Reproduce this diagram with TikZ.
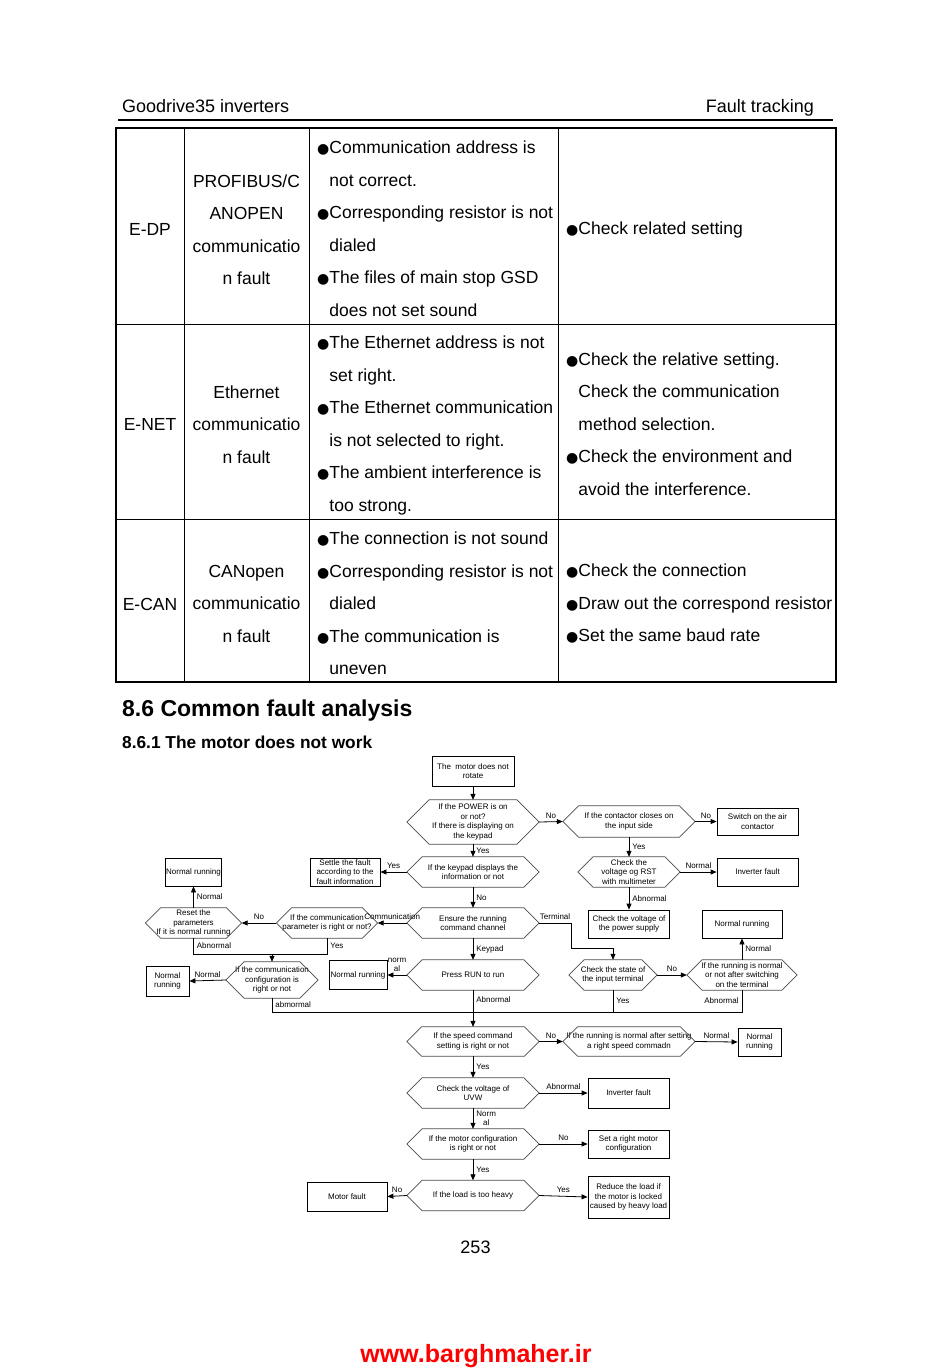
\documentclass[tikz,border=0pt]{standalone}
\usepackage{fontspec}
\setmainfont{Liberation Sans}
\newfontfamily\simbolo[Scale=0.8]{DejaVu Sans}
\usetikzlibrary{arrows.meta,calc}

\newcommand{\piccolo}{\fontsize{8}{9.5}\selectfont}
\newcommand{\tabella}{\fontsize{17.5}{32.5}\selectfont}
\newcommand{\punto}{{\simbolo ●}}
\newcommand{\rientro}{\phantom{\punto}}

\begin{document}
\begin{tikzpicture}[x=1pt,y=-1pt,
  box/.style 2 args={draw, line width=.8pt, minimum width=#1, minimum height=#2, inner sep=1pt, align=center, font=\piccolo},
  dec/.style 2 args={minimum width=#1, minimum height=#2, inner sep=0pt, align=center, font=\piccolo},
  freccia/.style={-{Triangle[length=6pt,width=5pt]}, line width=.8pt},
  linea/.style={line width=.8pt},
  lab/.style={font=\piccolo, inner sep=3pt},
  cella/.style={font=\tabella, inner sep=0pt, align=left, anchor=west},
  cellac/.style={font=\tabella, inner sep=0pt, align=center}]
\useasboundingbox (0,0) rectangle (950,1368);
\fill[white] (0,0) rectangle (950,1368);

% testata
\node[font=\fontsize{18}{20}\selectfont, anchor=base west, inner sep=0pt] (testata) at (122,112.5) {Goodrive35 inverters};
\node[font=\fontsize{18}{20}\selectfont, anchor=base east, inner sep=0pt] (capitolo) at (814,112.5) {Fault tracking};
\draw[line width=2pt] (118,120) -- (833,120);

% tabella
\draw[line width=1.2pt] (116,128) rectangle (836,682);
\draw (184,128) -- (184,682);
\draw (309,128) -- (309,682);
\draw (558,128) -- (558,682);
\draw (116,324) -- (836,324);
\draw (116,519) -- (836,519);

\node[cellac] (edp) at (150,229) {E-DP};
\node[cellac] (edpnome) at (246.5,229.5) {PROFIBUS/C\\ANOPEN\\communicatio\\n fault};
\node[cella] (edpcausa) at (317,229.5) {\punto Communication address is\\\rientro not correct.\\\punto Corresponding resistor is not\\\rientro dialed\\\punto The files of main stop GSD\\\rientro does not set sound};
\node[cella] (edprimedio) at (566,230) {\punto Check related setting};

\node[cellac] (enet) at (150,424) {E-NET};
\node[cellac] (enetnome) at (246.5,424.5) {Ethernet\\communicatio\\n fault};
\node[cella] (enetcausa) at (317,425.5) {\punto The Ethernet address is not\\\rientro set right.\\\punto The Ethernet communication\\\rientro is not selected to right.\\\punto The ambient interference is\\\rientro too strong.};
\node[cella] (enetrimedio) at (566,425) {\punto Check the relative setting.\\\rientro Check the communication\\\rientro method selection.\\\punto Check the environment and\\\rientro avoid the interference.};

\node[cellac] (ecan) at (150,604) {E-CAN};
\node[cellac] (ecannome) at (246.5,603.5) {CANopen\\communicatio\\n fault};
\node[cella] (ecancausa) at (317,604.5) {\punto The connection is not sound\\\punto Corresponding resistor is not\\\rientro dialed\\\punto The communication is\\\rientro uneven};
\node[cella] (ecanrimedio) at (566,604) {\punto Check the connection\\\punto Draw out the correspond resistor\\\punto Set the same baud rate};

% titoli
\node[font=\fontsize{23}{26}\selectfont\bfseries, anchor=base west, inner sep=0pt] (sezione) at (122,716) {8.6 Common fault analysis};
\node[font=\fontsize{17.3}{20}\selectfont\bfseries, anchor=base west, inner sep=0pt] (sottosezione) at (122,748) {8.6.1 The motor does not work};

% diagramma
\node[box={82pt}{30pt}] (inizio) at (473,771) {The\ \ motor does not\\rotate};
\node[dec={132pt}{44pt}] (dpower) at (473,822) {If the POWER is on\\or not?\\If there is displaying on\\the keypad};
\node[dec={132pt}{31pt}] (dcontatto) at (629,821.5) {If the contactor closes on\\the input side};
\node[box={81pt}{27pt}] (aria) at (757.5,821.5) {Switch on the air\\contactor};
\node[dec={102pt}{30pt}] (drst) at (629,872) {Check the\\voltage og RST\\with multimeter};
\node[box={81pt}{28pt}] (guasto1) at (757.5,872) {Inverter fault};
\node[box={81pt}{28pt}] (alim) at (629,924) {Check the voltage of\\the power supply};
\node[dec={132pt}{30pt}] (dkeypad) at (473,872) {If the keypad displays the\\information or not};
\node[box={70pt}{28pt}] (settle) at (345,872) {Settle the fault\\according to the\\fault information};
\node[dec={132pt}{30pt}] (dcanale) at (473,923) {Ensure the running\\command channel};
\node[dec={101pt}{30pt}] (dcom) at (327,923) {If the communication\\parameter is right or not?};
\node[dec={96pt}{30pt}] (dreset) at (193.5,923) {Reset the\\parameters\\If it is normal running};
\node[box={56pt}{28pt}] (normale1) at (193.5,872) {Normal running};
\node[dec={92pt}{36pt}] (dconfig) at (272,980) {If the communication\\configuration is\\right or not};
\node[box={43pt}{30pt}] (normale2) at (167.5,981) {Normal\\running};
\node[dec={132pt}{30pt}] (drun) at (473,975) {Press RUN to run};
\node[box={58pt}{29pt}] (normale3) at (358,975) {Normal running};
\node[dec={88pt}{30pt}] (dstato) at (613,975) {Check the state of\\the input terminal};
\node[dec={110pt}{30pt}] (dmorsetto) at (742,975) {If the running is normal\\or not after switching\\on the terminal};
\node[box={80pt}{28pt}] (normale4) at (742,924) {Normal running};
\node[dec={132pt}{29pt}] (dvelocita) at (473,1041.5) {If the speed command\\setting is right or not};
\node[dec={132pt}{29pt}] (ddopo) at (629,1041.5) {If the running is normal after setting\\a right speed commadn};
\node[box={43pt}{28pt}] (normale5) at (759.5,1042) {Normal\\running};
\node[dec={132pt}{30pt}] (duvw) at (473,1093) {Check the voltage of\\UVW};
\node[box={81pt}{30pt}] (guasto2) at (628.5,1093) {Inverter fault};
\node[dec={132pt}{30pt}] (dmotore) at (473,1144) {If the motor configuration\\is right or not};
\node[box={81pt}{28pt}] (config) at (628.5,1144) {Set a right motor\\configuration};
\node[dec={132pt}{30pt}] (dcarico) at (473,1195.5) {If the load is too heavy};
\node[box={80pt}{29pt}] (motore) at (347,1196.5) {Motor fault};
\node[box={81pt}{42pt}] (ridurre) at (628.5,1197) {Reduce the load if\\the motor is locked\\caused by heavy load};

% esagoni
\foreach \d in {dpower,dcontatto,drst,dkeypad,dcanale,dcom,dreset,dconfig,drun,dstato,dmorsetto,dvelocita,ddopo,duvw,dmotore,dcarico}
  \draw[black!70, line width=.7pt] let \p1=(\d.north), \p2=(\d.center), \n1={\y1-\y2} in
    (\d.west) -- ([xshift=\n1]\d.north west) -- ([xshift=-\n1]\d.north east) -- (\d.east)
    -- ([xshift=-\n1]\d.south east) -- ([xshift=\n1]\d.south west) -- cycle;

\coordinate (jcom) at (272,954);
\coordinate (jterm) at (571,948);
\coordinate (jbasso) at (473,1012);

\draw[freccia] (inizio.south) -- (dpower.north);
\draw[freccia] (dpower.east) -- node[lab,above]{No} (dcontatto.west);
\draw[freccia] (dcontatto.east) -- node[lab,above]{No} (aria.west);
\draw[freccia] (dcontatto.south) -- node[lab,right]{Yes} (drst.north);
\draw[freccia] (drst.east) -- node[lab,above]{Normal} (guasto1.west);
\draw[freccia] (drst.south) -- node[lab,right]{Abnormal} (alim.north);
\draw[freccia] (dpower.south) -- node[lab,right]{Yes} (dkeypad.north);
\draw[freccia] (dkeypad.west) -- node[lab,above]{Yes} (settle.east);
\draw[freccia] (dkeypad.south) -- node[lab,right]{No} (dcanale.north);
\draw[freccia] (dcanale.west) -- node[lab,above]{Communication} (dcom.east);
\draw[freccia] (dcom.west) -- node[lab,above]{No} (dreset.east);
\draw[freccia] (dreset.north) -- node[lab,right]{Normal} (normale1.south);
\draw[linea] (dreset.south) -- node[lab,right]{Abnormal} (dreset.south |- jcom) -- (dcom.south |- jcom) -- node[lab,right]{Yes} (dcom.south);
\draw[freccia] (jcom) -- (dconfig.north);
\draw[freccia] (dconfig.west) -- node[lab,above]{Normal} (normale2.east);
\draw[freccia] (dcanale.south) -- node[lab,right]{Keypad} (drun.north);
\draw[freccia] (drun.west) -- node[lab,above,align=center]{norm\\al} (normale3.east);
\draw[freccia] (dcanale.east) -- node[lab,above]{Terminal} (dcanale.east -| jterm) -- (jterm) -- (jterm -| dstato.north) -- (dstato.north);
\draw[freccia] (dstato.east) -- node[lab,above]{No} (dmorsetto.west);
\draw[freccia] (dmorsetto.north) -- node[lab,right]{Normal} (normale4.south);

\draw[freccia] (drun.south) -- node[lab,right,pos=.27]{Abnormal} (dvelocita.north);
\draw[linea] (dconfig.south) -- node[lab,right]{abmormal} (dconfig.south |- jbasso) -- (jbasso);
\draw[linea] (dmorsetto.south) -- node[lab,left]{Abnormal} (dmorsetto.south |- jbasso) -- (jbasso);
\draw[linea] (dstato.south) -- node[lab,right]{Yes} (dstato.south |- jbasso);

\draw[freccia] (dvelocita.east) -- node[lab,above]{No} (ddopo.west);
\draw[freccia] (ddopo.east) -- node[lab,above]{Normal} (normale5.west);
\draw[freccia] (dvelocita.south) -- node[lab,right]{Yes} (duvw.north);
\draw[freccia] (duvw.east) -- node[lab,above]{Abnormal} (guasto2.west);
\draw[freccia] (duvw.south) -- node[lab,right,align=center]{Norm\\al} (dmotore.north);
\draw[freccia] (dmotore.east) -- node[lab,above]{No} (config.west);
\draw[freccia] (dmotore.south) -- node[lab,right]{Yes} (dcarico.north);
\draw[freccia] (dcarico.west) -- node[lab,above]{No} (motore.east);
\draw[freccia] (dcarico.east) -- node[lab,above]{Yes} (ridurre.west);

% pie di pagina
\node[font=\fontsize{18}{20}\selectfont] (pagina) at (475.5,1247) {253};
\node[font=\fontsize{25}{28}\selectfont\bfseries, text=red] (sito) at (476,1356) {www.barghmaher.ir};

\end{tikzpicture}
\end{document}
